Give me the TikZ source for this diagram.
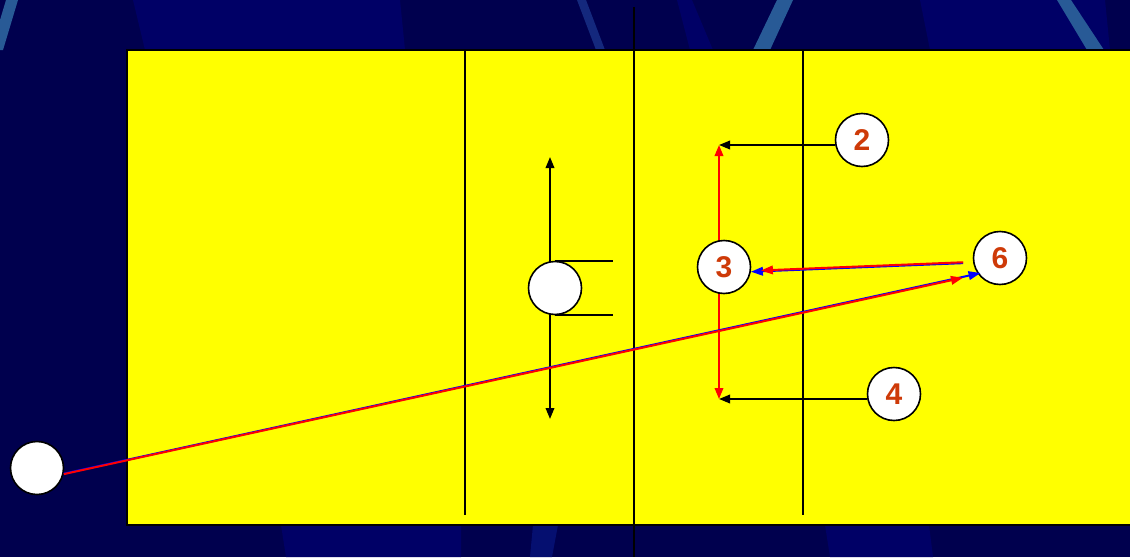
\documentclass[tikz,border=0pt]{standalone}
\usepackage{fontspec}
\setmainfont{Liberation Sans}
\usetikzlibrary{arrows.meta}
\definecolor{navy}{RGB}{0,0,78}
\definecolor{navylight}{RGB}{0,0,102}
\definecolor{stripe}{RGB}{40,90,150}
\definecolor{stripedim}{RGB}{20,40,125}
\definecolor{stripefaint}{RGB}{5,15,112}
\definecolor{numcol}{RGB}{206,58,8}
\definecolor{courtyellow}{RGB}{255,255,0}
\tikzset{
  player/.style={circle, draw=black, line width=1.6pt, fill=white, minimum size=53pt, inner sep=0pt,
    font=\fontsize{30}{30}\selectfont\bfseries, text=numcol},
  courtline/.style={draw=black, line width=1.7pt},
  blkarrow/.style={draw=black, line width=1.9pt, -{Triangle[length=11pt,width=8.5pt]}},
  blkdouble/.style={draw=black, line width=1.9pt, {Triangle[length=11pt,width=8.5pt]}-{Triangle[length=11pt,width=8.5pt]}},
  redarrow/.style={draw=red, line width=2pt, -{Triangle[length=12pt,width=8.5pt]}},
  reddouble/.style={draw=red, line width=2pt, {Triangle[length=11pt,width=8.5pt]}-{Triangle[length=11pt,width=8.5pt]}},
  bluearrow/.style={draw=blue, line width=2pt, -{Triangle[length=12pt,width=8.5pt]}},
}
\begin{document}
\begin{tikzpicture}[x=1pt,y=-1pt]
\useasboundingbox (0,0) rectangle (1130,557);
% background
\fill[navy] (0,0) rectangle (1130,557);
\fill[navylight] (133,0) -- (400,0) -- (405,50) -- (145,50) -- cycle;
\fill[navylight] (677,0) -- (692,0) -- (713,50) -- (690,50) -- cycle;
\fill[navylight] (920,0) -- (1105,0) -- (1110,50) -- (930,50) -- cycle;
\fill[navylight] (281,525) -- (461,525) -- (461,557) -- (286,557) -- cycle;
\fill[navylight] (825,525) -- (929,525) -- (933,557) -- (830,557) -- cycle;
\fill[stripefaint] (533,525) -- (558,525) -- (552,557) -- (530,557) -- cycle;
\fill[stripe] (6,0) -- (18,0) -- (3,50) -- (-9,50) -- cycle;
\fill[stripedim] (577,0) -- (586,0) -- (605,50) -- (596,50) -- cycle;
\fill[stripe] (777,0) -- (793,0) -- (770,50) -- (753,50) -- cycle;
\fill[stripe] (1057,0) -- (1071,0) -- (1104,50) -- (1087,50) -- cycle;
% court
\path[fill=courtyellow, draw=black, line width=1.8pt] (127,50) rectangle (1140,525);
\coordinate (l1t) at (465,50);  \coordinate (l1b) at (465,515);
\coordinate (l2t) at (803,50);  \coordinate (l2b) at (803,515);
\coordinate (nt) at (634,7);    \coordinate (nb) at (634,557);
\draw[courtline] (l1t) -- (l1b);
\draw[courtline] (l2t) -- (l2b);
\draw[courtline] (nt) -- (nb);
% arrow end points
\coordinate (a2) at (719,145);
\coordinate (a4) at (719,399);
\coordinate (s1) at (550,157);
\coordinate (s2) at (550,419);
\coordinate (t1) at (613,262);
\coordinate (t2) at (613,314);
\draw[reddouble] (a4) -- (a2);
\draw[blkdouble] (s2) -- (s1);
% players
\node[player] (setter) at (555,288) {};
\node[player] (server) at (37,468) {};
\node[player] (p2) at (862,140) {2};
\node[player] (p3) at (724,267) {3};
\node[player] (p4) at (894,394) {4};
\node[player] (p6) at (1000,258) {6};
% setter tangents
\draw[courtline] (setter.north) -- (setter.north -| t1);
\draw[courtline] (setter.south) -- (setter.south -| t2);
% moves of 2 and 4
\draw[blkarrow] (p2.west |- a2) -- (a2);
\draw[blkarrow] (p4.west |- a4) -- (a4);
% serve
\draw[bluearrow, shorten >=-3pt] (server.-12) -- (p6.215);
\draw[redarrow, shorten >=15pt] ([yshift=-0.9pt]server.-11) -- ([yshift=-0.9pt]p6.215);
% pass 6 -> 3
\draw[bluearrow, shorten <=10pt] (p6.190) -- (p3.-10);
\draw[redarrow, shorten <=10pt, shorten >=10pt] ([yshift=0.9pt]p6.190) -- ([yshift=0.9pt]p3.-10);
\end{tikzpicture}
\end{document}
